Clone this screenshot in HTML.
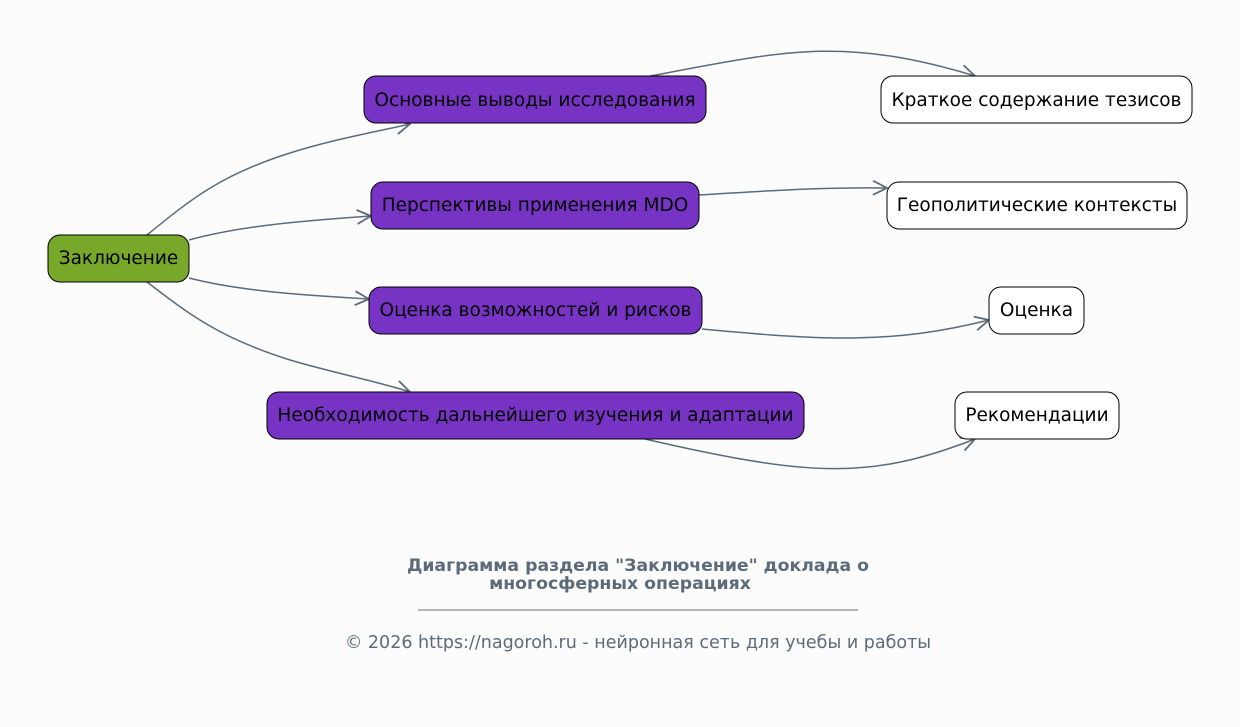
<!DOCTYPE html>
<html><head><meta charset="utf-8"><style>
body{margin:0;background:#fcfcfc;}
svg{display:block;font-family:"DejaVu Sans","Liberation Sans",sans-serif;}
</style></head><body>
<svg width="1240" height="727" viewBox="0 0 1240 727" xmlns="http://www.w3.org/2000/svg">
<defs>
<marker id="a" viewBox="0 0 16 16" refX="15" refY="8" markerWidth="16" markerHeight="16" markerUnits="userSpaceOnUse" orient="auto">
<path d="M1,1 L15,8 L1,15" fill="none" stroke="#5c6b7a" stroke-width="1.8"/>
</marker>
</defs>
<rect width="1240" height="727" fill="#fcfcfc"/>
<g fill="none" stroke="#5c6b7a" stroke-width="1.5" marker-end="url(#a)">
<path d="M147,235 C190,200 220,175 290,153 C330,140 380,131 410,124"/>
<path d="M189,240 C240,226 300,221 371,216"/>
<path d="M189,278 C240,291 300,295 369,299"/>
<path d="M147,282 C190,315 220,338 290,360 C330,372 380,382 410,392"/>
<path d="M650,76 C780,52 840,35 975,76"/>
<path d="M699,195 C780,190 830,187 887,188"/>
<path d="M702,329 C820,340 890,345 989,320"/>
<path d="M645,439 C810,477 870,480 975,439"/>
</g>
<g stroke="#000" stroke-width="1">
<rect x="48" y="235" width="141" height="47" rx="12" fill="#78a829"/>
<rect x="364" y="76" width="342" height="47" rx="12" fill="#7733c4"/>
<rect x="371" y="182" width="328" height="47" rx="12" fill="#7733c4"/>
<rect x="369" y="287" width="333" height="47" rx="12" fill="#7733c4"/>
<rect x="267" y="392" width="537" height="47" rx="12" fill="#7733c4"/>
<rect x="881" y="76" width="311" height="47" rx="12" fill="#fff"/>
<rect x="887" y="182" width="300" height="47" rx="12" fill="#fff"/>
<rect x="989" y="287" width="95" height="47" rx="12" fill="#fff"/>
<rect x="955" y="392" width="164" height="47" rx="12" fill="#fff"/>
</g>
<g font-size="18.5" fill="#000" text-anchor="middle">
<text x="118.5" y="264">Заключение</text>
<text x="535" y="106">Основные выводы исследования</text>
<text x="535" y="211">Перспективы применения MDO</text>
<text x="535.5" y="316">Оценка возможностей и рисков</text>
<text x="535.5" y="421">Необходимость дальнейшего изучения и адаптации</text>
<text x="1036.5" y="106">Краткое содержание тезисов</text>
<text x="1037" y="211">Геополитические контексты</text>
<text x="1036.5" y="316">Оценка</text>
<text x="1037" y="421">Рекомендации</text>
</g>
<g fill="#5c6b7a" text-anchor="middle">
<text x="638" y="571" font-size="17.3" font-weight="bold">Диаграмма раздела "Заключение" доклада о</text>
<text x="620" y="589" font-size="17.3" font-weight="bold">многосферных операциях</text>
<line x1="418" y1="610" x2="858" y2="610" stroke="#444" stroke-width="0.8"/>
<text x="638" y="648" font-size="17.5">© 2026 https://nagoroh.ru - нейронная сеть для учебы и работы</text>
</g>
</svg>
</body></html>
